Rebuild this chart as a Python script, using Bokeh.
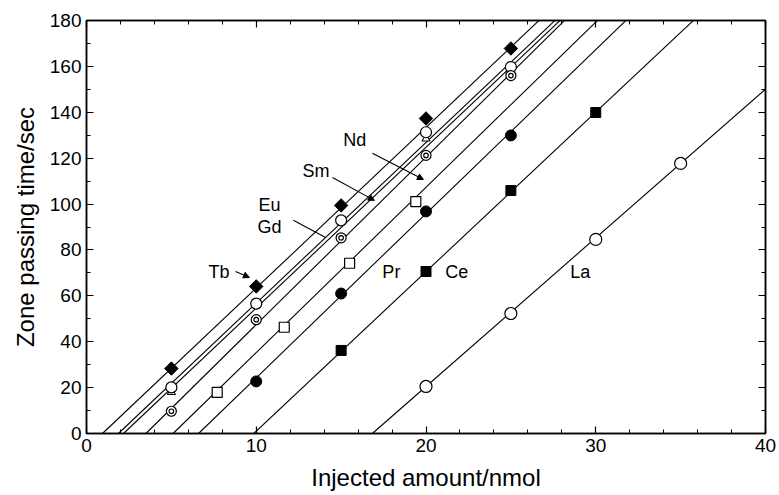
import numpy as np
from bokeh.plotting import figure
from bokeh.models import (Range1d, SingleIntervalTicker, LinearAxis, Arrow,
                          NormalHead, Label)
from bokeh.embed import file_html
from bokeh.resources import INLINE

# ---- data ----
tb_x = [5, 10, 15, 20, 25]
tb_y = [28.3, 64.1, 99.4, 137.3, 167.8]
eu_x = [5, 10, 15, 20, 25]
eu_y = [20.1, 56.6, 92.9, 131.3, 159.7]
gd_x = [5, 20]
gd_y = [18.0, 128.5]
sm_x = [5, 10, 15, 20, 25]
sm_y = [9.7, 49.6, 85.3, 121.2, 156.0]
nd_x = [7.7, 11.65, 15.5, 19.4]
nd_y = [17.9, 46.3, 74.2, 101.1]
pr_x = [10, 15, 20, 25]
pr_y = [22.7, 61.0, 96.8, 129.9]
ce_x = [15, 20, 25, 30]
ce_y = [36.2, 70.6, 105.9, 139.9]
la_x = [20, 25, 30, 35]
la_y = [20.5, 52.3, 84.6, 117.7]

# fitted lines: y = slope * (x - x_intercept)
elements = ["Tb", "Eu", "Gd", "Sm", "Nd", "Pr", "Ce", "La"]
slopes = [7.0, 7.0, 7.0, 7.3, 7.2, 7.15, 6.95, 6.48]
x_intercepts = [0.94, 1.88, 2.18, 3.5, 5.1, 6.6, 9.85, 16.84]

x_ticks_major = 10
y_ticks_major = 20

FONT = "Liberation Sans"

p = figure(width=779, height=495, output_backend="svg", toolbar_location=None,
           x_range=Range1d(0, 40), y_range=Range1d(0, 180),
           min_border_left=86, min_border_right=14, min_border_top=20,
           min_border_bottom=62, x_axis_location=None, y_axis_location=None)
p.grid.visible = False
p.outline_line_color = "black"
p.outline_line_width = 1.5
p.background_fill_color = "white"
p.border_fill_color = "white"


def make_axis(kind, labels):
    if kind == "x":
        ax = LinearAxis(ticker=SingleIntervalTicker(interval=x_ticks_major, num_minor_ticks=5))
    else:
        ax = LinearAxis(ticker=SingleIntervalTicker(interval=y_ticks_major, num_minor_ticks=2))
    ax.axis_line_color = "black"
    ax.axis_line_width = 1.5
    ax.major_tick_in = 7
    ax.major_tick_out = 0
    ax.minor_tick_in = 4
    ax.minor_tick_out = 0
    ax.major_tick_line_width = 1.2
    ax.minor_tick_line_width = 1
    ax.major_label_text_font = FONT
    if labels:
        ax.major_label_text_font_size = "19px"
        ax.major_label_text_color = "black"
    else:
        ax.major_label_text_font_size = "1px"
        ax.major_label_text_color = None
        ax.major_label_standoff = 0
    return ax


xb = make_axis("x", True)
xb.axis_label = "Injected amount/nmol"
xb.axis_label_text_font = FONT
xb.axis_label_text_font_size = "24px"
xb.axis_label_text_font_style = "normal"
xb.axis_label_text_color = "black"
xb.major_label_standoff = 5
xb.axis_label_standoff = 9
p.add_layout(xb, "below")

yl = make_axis("y", True)
yl.axis_label = "Zone passing time/sec"
yl.axis_label_text_font = FONT
yl.axis_label_text_font_size = "24px"
yl.axis_label_text_font_style = "normal"
yl.axis_label_text_color = "black"
yl.major_label_standoff = 5
yl.axis_label_standoff = 8
p.add_layout(yl, "left")

p.add_layout(make_axis("x", False), "above")
p.add_layout(make_axis("y", False), "right")

# regression lines
for s, b in zip(slopes, x_intercepts):
    xs = [b, b + 185.0 / s]
    ys = [s * (x - b) for x in xs]
    p.line(xs, ys, line_color="black", line_width=1.1)

# markers
p.scatter(gd_x, gd_y, marker="triangle", size=8, fill_color="white", line_color="black", line_width=1.1)
p.scatter(tb_x, tb_y, marker="square", angle=np.pi / 4, size=9.5, fill_color="black", line_color="black")
p.scatter(eu_x, eu_y, marker="circle", size=11, fill_color="white", line_color="black", line_width=1.2)
p.scatter(sm_x, sm_y, marker="circle", size=10, fill_color="white", line_color="black", line_width=1.2)
p.scatter(sm_x, sm_y, marker="circle", size=4.5, fill_color="white", line_color="black", line_width=1.2)
p.scatter(nd_x, nd_y, marker="square", size=10, fill_color="white", line_color="black", line_width=1.2)
p.scatter(pr_x, pr_y, marker="circle", size=11, fill_color="black", line_color="black")
p.scatter(ce_x, ce_y, marker="square", size=10, fill_color="black", line_color="black")
p.scatter(la_x, la_y, marker="circle", size=12, fill_color="white", line_color="black", line_width=1.2)

# element labels (text, x, y)
label_text = ["Tb", "Eu", "Gd", "Sm", "Nd", "Pr", "Ce", "La"]
label_x = [7.18, 10.13, 10.07, 12.72, 15.13, 17.43, 21.14, 28.5]
label_y = [70.6, 99.4, 89.8, 114.6, 127.7, 70.2, 70.6, 70.6]
for t, lx, ly in zip(label_text, label_x, label_y):
    p.add_layout(Label(x=lx, y=ly, text=t, text_font=FONT, text_font_size="18px",
                       text_baseline="middle", text_align="left", text_color="black"))

# leader lines (x0, y0, x1, y1, has_head)
leaders = [
    (8.78, 70.6, 9.6, 68.0, True),
    (12.19, 92.9, 14.08, 85.4, False),
    (14.49, 111.6, 16.96, 101.6, True),
    (16.84, 122.1, 19.85, 110.7, True),
]
for x0, y0, x1, y1, head in leaders:
    p.add_layout(Arrow(x_start=x0, y_start=y0, x_end=x1, y_end=y1,
                       line_color="black", line_width=1.1,
                       end=NormalHead(size=6, fill_color="black", line_color="black") if head else None))

open("out.html", "w").write(file_html(p, INLINE))
